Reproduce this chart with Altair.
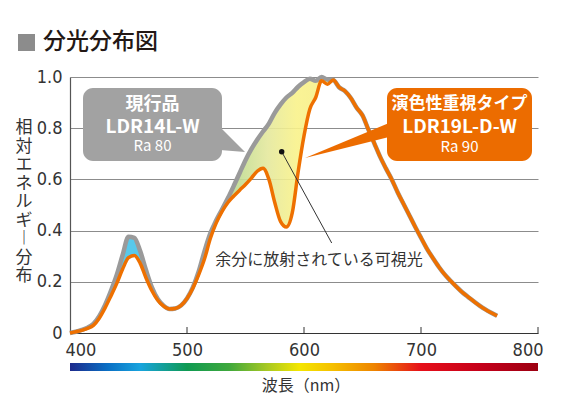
import altair as alt
import pandas as pd

# ---------------- data ----------------
wavelength = list(range(400, 770, 5))  # 400 .. 765 nm

orange = [0.0, 0.005, 0.01, 0.018, 0.03, 0.058, 0.098, 0.145, 0.194, 0.25,
          0.294, 0.303, 0.272, 0.215, 0.165, 0.128, 0.105, 0.094, 0.096, 0.108,
          0.135, 0.175, 0.228, 0.29, 0.37, 0.43, 0.475, 0.51, 0.535, 0.558,
          0.58, 0.605, 0.632, 0.644, 0.6, 0.51, 0.435, 0.414, 0.47, 0.63,
          0.77, 0.875, 0.92, 0.985, 0.972, 0.988, 0.96, 0.945, 0.918, 0.88,
          0.85, 0.795, 0.742, 0.689, 0.643, 0.6, 0.55, 0.505, 0.46, 0.415,
          0.372, 0.33, 0.294, 0.26, 0.23, 0.205, 0.182, 0.16, 0.142, 0.124,
          0.107, 0.092, 0.079, 0.067]

gray = [0.0, 0.005, 0.012, 0.021, 0.036, 0.066, 0.11, 0.165, 0.228, 0.305,
        0.376, 0.372, 0.32, 0.245, 0.178, 0.133, 0.107, 0.094, 0.096, 0.108,
        0.135, 0.178, 0.24, 0.32, 0.39, 0.44, 0.483, 0.527, 0.575, 0.625,
        0.675, 0.718, 0.755, 0.787, 0.818, 0.86, 0.893, 0.92, 0.938, 0.962,
        0.98, 0.993, 0.985, 1.0, 0.99, 0.988, 0.96, 0.945, 0.918, 0.88,
        0.85, 0.795, 0.742, 0.689, 0.643, 0.6, 0.55, 0.505, 0.46, 0.415,
        0.372, 0.33, 0.294, 0.26, 0.23, 0.205, 0.182, 0.16, 0.142, 0.124,
        0.107, 0.092, 0.079, 0.067]

x_ticks = [400, 500, 600, 700, 800]
y_ticks = [0, 0.2, 0.4, 0.6, 0.8, 1.0]

title_text = "分光分布図"
y_title_chars = ["相", "対", "エ", "ネ", "ル", "ギ", "︱", "分", "布"]
x_title_text = "波長（nm）"
gray_label = ["現行品", "LDR14L-W", "Ra 80"]
orange_label = ["演色性重視タイプ", "LDR19L-D-W", "Ra 90"]
note_text = "余分に放射されている可視光"

JP = "Noto Sans CJK JP"
NUM = "Liberation Sans Narrow, DejaVu Sans Condensed, Liberation Sans, sans-serif"

df = pd.DataFrame({"wl": wavelength, "gray": gray, "orange": orange})
one = pd.DataFrame({"k": [0]})
ticks_df = pd.DataFrame({"t": x_ticks[1:]})

x_enc = alt.X("wl:Q",
              scale=alt.Scale(domain=[400, 800], nice=False, zero=False),
              axis=alt.Axis(values=x_ticks, title=None, grid=False, ticks=False,
                            domainColor="#333333", domainWidth=1.2,
                            labelFont=NUM, labelFontSize=18, labelColor="#333333",
                            labelPadding=8, labelFlush=True, labelFlushOffset=5))
y_scale = alt.Scale(domain=[0, 1], nice=False)
y_axis = alt.Axis(values=y_ticks, title=None, grid=True, gridColor="#8c8c8c",
                  gridWidth=1, ticks=False, domainColor="#555555", domainWidth=1.2,
                  labelFont=NUM, labelFontSize=18, labelColor="#333333",
                  labelPadding=8,
                  labelExpr="datum.value == 0 ? '0' : format(datum.value, '.1f')")

base = alt.Chart(df)

cyan_fill = base.transform_filter("datum.wl >= 410 && datum.wl <= 485").mark_area(
    color="#4fc6ea", opacity=0.95, interpolate="monotone"
).encode(x=x_enc, y=alt.Y("gray:Q", scale=y_scale, axis=y_axis), y2="orange:Q")

yellow_fill = base.transform_filter("datum.wl >= 500 && datum.wl <= 625").mark_area(
    opacity=0.9, interpolate="monotone",
    color=alt.Gradient(
        gradient="linear", x1=0, x2=1, y1=0, y2=0,
        stops=[alt.GradientStop(color="#a3cf88", offset=0),
               alt.GradientStop(color="#b9d98f", offset=0.3),
               alt.GradientStop(color="#e4e89d", offset=0.55),
               alt.GradientStop(color="#f9f28a", offset=0.75),
               alt.GradientStop(color="#f5ed86", offset=1)])
).encode(x="wl:Q", y="gray:Q", y2="orange:Q")

gray_line = base.mark_line(color="#9a9a9a", strokeWidth=4.5, strokeJoin="round",
                           interpolate="monotone").encode(x="wl:Q", y="gray:Q")
orange_line = base.mark_line(color="#ee7000", strokeWidth=3.5, strokeJoin="round",
                             interpolate="monotone").encode(x="wl:Q", y="orange:Q")

tick_marks = alt.Chart(ticks_df).mark_rule(color="#333333", strokeWidth=1).encode(
    x="t:Q", y=alt.value(256), y2=alt.value(250))

rainbow = alt.Chart(one).mark_rect(
    color=alt.Gradient(
        gradient="linear", x1=0, x2=1, y1=0, y2=0,
        stops=[alt.GradientStop(color="#1d2a8c", offset=0),
               alt.GradientStop(color="#0a6fc4", offset=0.08),
               alt.GradientStop(color="#18a4de", offset=0.15),
               alt.GradientStop(color="#0e9a52", offset=0.25),
               alt.GradientStop(color="#3fa83c", offset=0.34),
               alt.GradientStop(color="#a6c823", offset=0.42),
               alt.GradientStop(color="#f4e600", offset=0.49),
               alt.GradientStop(color="#f5c000", offset=0.56),
               alt.GradientStop(color="#ee8400", offset=0.65),
               alt.GradientStop(color="#e60f1a", offset=0.75),
               alt.GradientStop(color="#c4001a", offset=0.88),
               alt.GradientStop(color="#9c0012", offset=1)])
).encode(x=alt.datum(400), x2=alt.datum(800), y=alt.value(286), y2=alt.value(294))

# title
title_sq = alt.Chart(one).mark_rect(color="#8c8c8c").encode(
    x=alt.value(-52), x2=alt.value(-35), y=alt.value(-43), y2=alt.value(-26))
title_tx = alt.Chart(one).mark_text(text=title_text, font=JP, fontSize=23, fontWeight=500,
                                    color="#231815", align="left", baseline="middle").encode(
    x=alt.value(-27), y=alt.value(-35))

y_title = alt.Chart(one).mark_text(text=y_title_chars, font=JP, fontSize=17, lineHeight=18.5,
                                   color="#333333", align="center", baseline="top").encode(
    x=alt.value(-46), y=alt.value(43))
x_title = alt.Chart(one).mark_text(text=x_title_text, font=JP, fontSize=16,
                                   color="#333333", align="center", baseline="middle").encode(
    x=alt.value(236), y=alt.value(309))

# gray callout
g_col = "#a2a2a2"
g_box = alt.Chart(one).mark_rect(color=g_col, cornerRadius=10).encode(
    x=alt.value(13), x2=alt.value(152), y=alt.value(11), y2=alt.value(84))
g_ptr = alt.Chart(one).mark_point(shape="M 150 50 L 175 75 L 150 73 Z", size=4, filled=True,
                                  color=g_col, opacity=1, strokeWidth=0).encode(
    x=alt.value(0), y=alt.value(0))
g_t1 = alt.Chart(one).mark_text(text=gray_label[0], font=JP, fontSize=18, fontWeight="bold",
                                color="white", baseline="middle").encode(x=alt.value(82.5), y=alt.value(28))
g_t2 = alt.Chart(one).mark_text(text=gray_label[1], font=JP, fontSize=19, fontWeight="bold",
                                color="white", baseline="middle").encode(x=alt.value(82.5), y=alt.value(50))
g_t3 = alt.Chart(one).mark_text(text=gray_label[2], font=JP, fontSize=15,
                                color="white", baseline="middle").encode(x=alt.value(82.5), y=alt.value(69))

# orange callout
o_col = "#ec6c00"
o_box = alt.Chart(one).mark_rect(color=o_col, cornerRadius=10).encode(
    x=alt.value(317), x2=alt.value(462), y=alt.value(11), y2=alt.value(84))
o_ptr = alt.Chart(one).mark_point(shape="M 319 46 L 235 81 L 319 60 Z", size=4, filled=True,
                                  color=o_col, opacity=1, strokeWidth=0).encode(
    x=alt.value(0), y=alt.value(0))
o_t1 = alt.Chart(one).mark_text(text=orange_label[0], font=JP, fontSize=17, fontWeight="bold",
                                color="white", baseline="middle").encode(x=alt.value(389.5), y=alt.value(27))
o_t2 = alt.Chart(one).mark_text(text=orange_label[1], font=JP, fontSize=19, fontWeight="bold",
                                color="white", baseline="middle").encode(x=alt.value(389.5), y=alt.value(50))
o_t3 = alt.Chart(one).mark_text(text=orange_label[2], font=JP, fontSize=15,
                                color="white", baseline="middle").encode(x=alt.value(389.5), y=alt.value(70))

# note
leader = alt.Chart(one).mark_rule(color="#333333", strokeWidth=1).encode(
    x=alt.value(211.7), y=alt.value(74.7), x2=alt.value(261.7), y2=alt.value(166))
dot = alt.Chart(one).mark_point(filled=True, size=30, color="#111111", opacity=1).encode(
    x=alt.value(211.7), y=alt.value(74.7))
note = alt.Chart(one).mark_text(text=note_text, font=JP, fontSize=16, color="#333333",
                                baseline="middle").encode(x=alt.value(249), y=alt.value(183))

chart = alt.layer(
    cyan_fill, yellow_fill, gray_line, orange_line, tick_marks, rainbow,
    title_sq, title_tx, y_title, x_title,
    g_box, g_ptr, g_t1, g_t2, g_t3,
    o_box, o_ptr, o_t1, o_t2, o_t3,
    leader, dot, note
).properties(
    width=468, height=256,
    autosize=alt.AutoSizeParams(type="none"),
    padding={"left": 70, "top": 77, "right": 42, "bottom": 75},
    background="white"
).configure_view(stroke=None)

chart.save("out.html", embed_options={"renderer": "svg", "actions": False})
